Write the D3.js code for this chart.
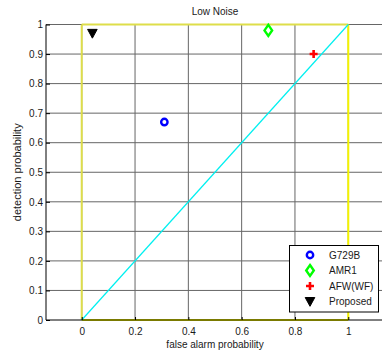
<!DOCTYPE html>
<html><head><meta charset="utf-8">
<script src="https://cdn.jsdelivr.net/npm/d3@7"></script>
<style>
html,body{margin:0;padding:0;background:#fff;}
svg{display:block;font-family:"Liberation Sans",Arial,sans-serif;}
</style></head>
<body>
<svg id="c" width="382" height="351"></svg>
<script>
const methods = ["G729B", "AMR1", "AFW(WF)", "Proposed"];
const falseAlarm = [0.31, 0.70, 0.87, 0.04];
const detection = [0.67, 0.98, 0.90, 0.97];
const markerTypes = ["circle", "diamond", "plus", "triangle"];
const markerColors = ["#0000ff", "#00ff00", "#ff0000", "#000000"];
const xTicks = [0, 0.2, 0.4, 0.6, 0.8, 1];
const yTicks = [0, 0.1, 0.2, 0.3, 0.4, 0.5, 0.6, 0.7, 0.8, 0.9, 1];
const diagonal = [[0, 0], [1, 1]];
const square = [[0, 0], [0, 1], [1, 1], [1, 0]];

const svg = d3.select("#c");
const x = d3.scaleLinear().domain([-0.134, 1.134]).range([46, 384]);
const y = d3.scaleLinear().domain([0, 1]).range([320, 24.5]);
const textCol = "#1a1a1a";

// grid
svg.append("g").selectAll("line").data(yTicks.filter(d => d > 0)).join("line")
  .attr("x1", x.range()[0]).attr("x2", x.range()[1])
  .attr("y1", d => y(d)).attr("y2", d => y(d))
  .attr("stroke", "#666").attr("stroke-width", 1);
svg.append("g").selectAll("line").data(xTicks).join("line")
  .attr("x1", d => x(d)).attr("x2", d => x(d))
  .attr("y1", y(0)).attr("y2", y(1))
  .attr("stroke", "#666").attr("stroke-width", 1);

// yellow square
const sq = square.concat([square[0]]);
for (let i = 0; i < 4; i++) {
  const a = sq[i], b = sq[i + 1];
  svg.append("line")
    .attr("x1", x(a[0])).attr("y1", y(a[1]))
    .attr("x2", x(b[0])).attr("y2", y(b[1]))
    .attr("stroke", i < 2 ? "#dede4a" : "#f4f400").attr("stroke-width", 2);
}

// diagonal
svg.append("line")
  .attr("x1", x(diagonal[0][0])).attr("y1", y(diagonal[0][1]))
  .attr("x2", x(diagonal[1][0])).attr("y2", y(diagonal[1][1]))
  .attr("stroke", "#00f0f0").attr("stroke-width", 1.2);

// axes
const xAxis = d3.axisBottom(x).tickValues(xTicks).tickSize(-3).tickPadding(8)
  .tickFormat(d => d3.format("")(d));
const gx = svg.append("g").attr("transform", `translate(0,${y(0)})`).call(xAxis);
gx.select(".domain").remove();
gx.append("line").attr("x1", x.range()[0]).attr("x2", x.range()[1]).attr("y1", 0).attr("y2", 0)
  .attr("stroke", "#000").attr("stroke-width", 1);
gx.selectAll("text").attr("font-size", 10).attr("fill", textCol).attr("font-family", "Liberation Sans, Arial, sans-serif");

const yAxis = d3.axisLeft(y).tickValues(yTicks).tickSize(-4).tickPadding(3)
  .tickFormat(d => d3.format("")(d));
const gy = svg.append("g").attr("transform", `translate(${x.range()[0]},0)`).call(yAxis);
gy.select(".domain").remove();
gy.append("line").attr("x1", 0).attr("x2", 0).attr("y1", y(0)).attr("y2", y(1))
  .attr("stroke", "#000").attr("stroke-width", 1);
gy.selectAll("text").attr("font-size", 10).attr("fill", textCol).attr("font-family", "Liberation Sans, Arial, sans-serif");

// labels
svg.append("text").attr("x", 215).attr("y", 15).attr("text-anchor", "middle")
  .attr("font-size", 10).attr("fill", textCol).text("Low Noise");
svg.append("text").attr("x", 215).attr("y", 348).attr("text-anchor", "middle")
  .attr("font-size", 10).attr("fill", textCol).text("false alarm probability");
svg.append("text").attr("transform", `translate(20.5,${(y(0) + y(1)) / 2}) rotate(-90)`)
  .attr("text-anchor", "middle").attr("font-size", 11).attr("fill", textCol).text("detection probability");

function drawMarker(g, type, color) {
  if (type === "circle") {
    g.append("circle").attr("r", 3.2).attr("fill", "none").attr("stroke", color).attr("stroke-width", 2.4);
  } else if (type === "diamond") {
    g.append("path").attr("d", "M0,-5.5L3.8,0L0,5.5L-3.8,0Z").attr("fill", "none")
      .attr("stroke", color).attr("stroke-width", 2.4);
  } else if (type === "plus") {
    g.append("path").attr("d", "M-4,0H4M0,-4V4").attr("stroke", color).attr("stroke-width", 2.6);
  } else if (type === "triangle") {
    g.append("path").attr("d", "M-4.8,-4L4.8,-4L0,4.8Z").attr("fill", color).attr("stroke", color).attr("stroke-width", 1);
  }
}

// points
methods.forEach((m, i) => {
  const g = svg.append("g").attr("transform", `translate(${x(falseAlarm[i])},${y(detection[i])})`);
  drawMarker(g, markerTypes[i], markerColors[i]);
});

// legend
const lg = svg.append("g").attr("transform", "translate(289,245)");
lg.append("rect").attr("x", 0.5).attr("y", 0.5).attr("width", 89).attr("height", 66.5)
  .attr("fill", "#fff").attr("stroke", "#000").attr("stroke-width", 1);
methods.forEach((m, i) => {
  const row = lg.append("g").attr("transform", `translate(0,${10 + i * 15.5})`);
  drawMarker(row.append("g").attr("transform", "translate(21,0)"), markerTypes[i], markerColors[i]);
  row.append("text").attr("x", 40).attr("y", 3.6).attr("font-size", 10).attr("fill", textCol).text(m);
});
</script>
</body></html>
